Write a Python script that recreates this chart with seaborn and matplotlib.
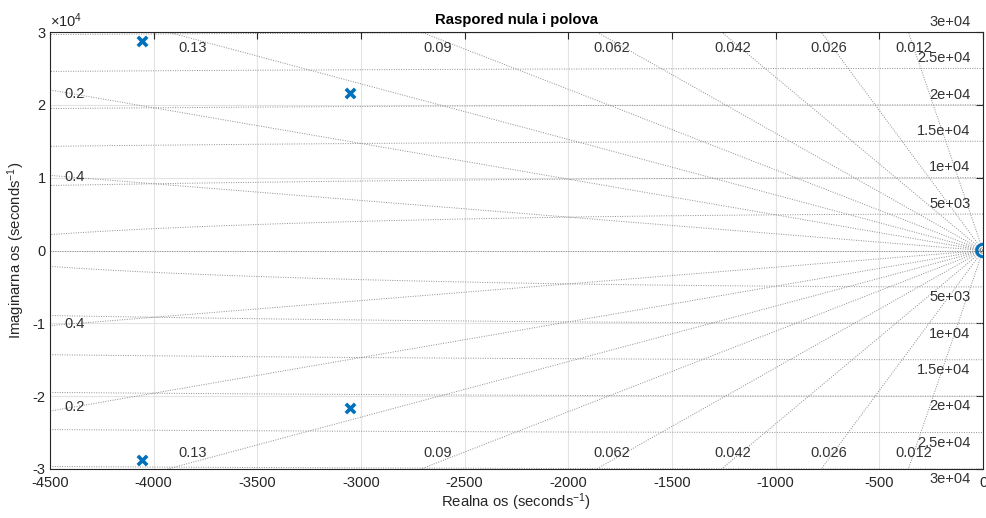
import numpy as np
import pandas as pd
import matplotlib
matplotlib.use("Agg")
import matplotlib.pyplot as plt
import seaborn as sns

# ==========================================================
# DATA
# ==========================================================

pole_re = [-4055, -4055, -3055, -3055]
pole_im = [28750, -28750, 21560, -21560]

zero_re = [0]
zero_im = [0]

zeta_values = [0.4, 0.2, 0.13, 0.09, 0.062, 0.042, 0.026, 0.012]
zeta_labels = ["0.4", "0.2", "0.13", "0.09", "0.062", "0.042", "0.026", "0.012"]

wn_values = [5000, 10000, 15000, 20000, 25000, 30000]
wn_labels = ["5e+03", "1e+04", "1.5e+04", "2e+04", "2.5e+04", "3e+04"]

x_ticks = [-4500, -4000, -3500, -3000, -2500, -2000, -1500, -1000, -500, 0]
y_ticks = [-30000, -20000, -10000, 0, 10000, 20000, 30000]
y_tick_labels = ["-3", "-2", "-1", "0", "1", "2", "3"]

x_lim = (-4500, 0)
y_lim = (-30000, 30000)

# ==========================================================
# STYLE
# ==========================================================

sns.set_theme(style="white")
plt.rcParams["font.family"] = ["Liberation Sans", "DejaVu Sans"]
plt.rcParams["mathtext.fontset"] = "custom"
plt.rcParams["mathtext.rm"] = "Liberation Sans"
plt.rcParams["mathtext.it"] = "Liberation Sans:italic"
plt.rcParams["axes.unicode_minus"] = False

blue = "#0072BD"
grid_col = "#8c8c8c"
text_col = "#333333"

fig = plt.figure(figsize=(9.87, 5.18), dpi=100)
ax = fig.add_axes([50 / 987, (518 - 469) / 518, (983 - 50) / 987, (469 - 32) / 518])

# ==========================================================
# S-PLANE GRID
# ==========================================================

r = np.array([0, 60000])
for z, lab in zip(zeta_values, zeta_labels):
    s = np.sqrt(1 - z ** 2)
    for sign in (1, -1):
        ax.plot(-z * r, sign * s * r, linestyle=(0, (1, 1.5)),
                color=grid_col, lw=0.7, zorder=1)

    x_exit = -30000 * z / s
    if x_exit > x_lim[0]:
        for sign in (1, -1):
            ax.text(0.968 * x_exit - 75, sign * 27750, lab, ha="left", va="center",
                    fontsize=10.5, color=text_col, zorder=3)
    else:
        y_left = 4400 * s / z
        for sign in (1, -1):
            ax.text(-4430, sign * y_left, lab, ha="left", va="center",
                    fontsize=10.5, color=text_col, zorder=3)

ax.axhline(0, linestyle=(0, (1, 1.5)), color=grid_col, lw=0.7, zorder=1)

theta = np.linspace(np.pi / 2, 3 * np.pi / 2, 600)
for wn, lab in zip(wn_values, wn_labels):
    ax.plot(wn * np.cos(theta), wn * np.sin(theta), linestyle=(0, (1, 1.5)),
            color=grid_col, lw=0.7, zorder=1)
    for sign in (1, -1):
        ax.text(-60, sign * (wn + 1400), lab, ha="right", va="center",
                fontsize=10.5, color=text_col, zorder=3, clip_on=False)

# ==========================================================
# POLES AND ZEROS
# ==========================================================

poles = pd.DataFrame({"re": pole_re, "im": pole_im})
zeros = pd.DataFrame({"re": zero_re, "im": zero_im})

sns.scatterplot(data=poles, x="re", y="im", marker="x", s=45,
                color=blue, linewidth=2.6, ax=ax, zorder=5)
sns.scatterplot(data=zeros, x="re", y="im", marker="o", s=80,
                facecolor="none", edgecolor=blue, linewidth=2.2,
                ax=ax, zorder=5)

# zero sits on the right border: clip it to the axes like MATLAB does
for coll in ax.collections:
    coll.set_clip_on(True)
    coll.set_clip_path(ax.patch)

# ==========================================================
# AXES
# ==========================================================

ax.set_xlim(*x_lim)
ax.set_ylim(*y_lim)
ax.set_xticks(x_ticks)
ax.set_yticks(y_ticks)
ax.set_yticklabels(y_tick_labels)

ax.grid(True, color="#e3e3e3", lw=0.8, zorder=0)
ax.set_axisbelow(True)

ax.tick_params(direction="in", length=5, width=0.8, top=True, right=True,
               labelsize=10.5, colors="#262626", pad=3)
ax.tick_params(axis="x", pad=5)
for sp in ax.spines.values():
    sp.set_color("#262626")
    sp.set_linewidth(0.8)

ax.text(0.0, 1.005, r"$\times10^{4}$", transform=ax.transAxes,
        ha="left", va="bottom", fontsize=10.5, color="#262626")

ax.set_title("Raspored nula i polova", fontsize=10.7, fontweight="bold",
             color="#000000", pad=6)
ax.set_xlabel(r"Realna os (seconds$^{-1}$)", fontsize=10.7, color="#262626", labelpad=1)
ax.set_ylabel(r"Imaginarna os (seconds$^{-1}$)", fontsize=10.7, color="#262626", labelpad=4)

fig.savefig("out.png", dpi=100)
